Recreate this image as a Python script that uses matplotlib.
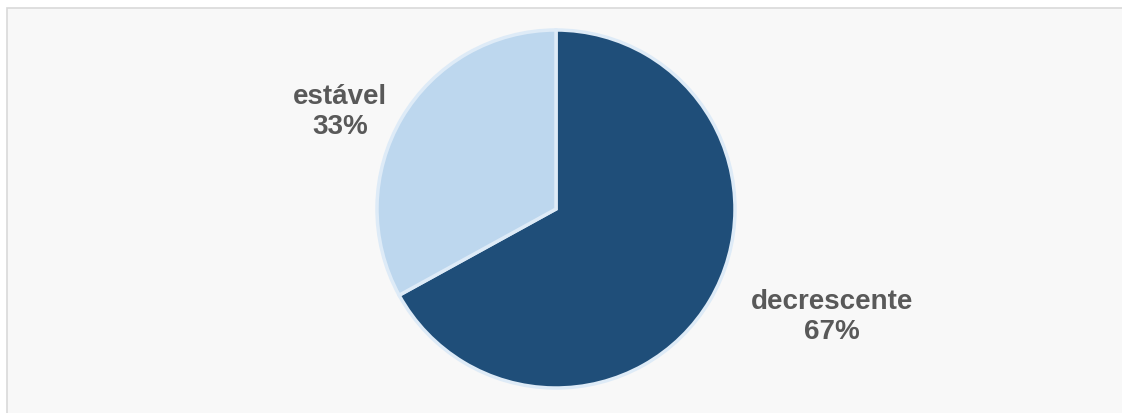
import matplotlib.pyplot as plt
from matplotlib.patches import Rectangle

labels = ['decrescente', 'estável']
values = [67, 33]
colors = ['#1f4e79', '#bdd7ee']

W, H = 1122, 414
fig = plt.figure(figsize=(W / 100, H / 100), dpi=100)
fig.patch.set_facecolor('white')
ax = fig.add_axes([0, 0, 1, 1])

# chart area background with thin border
ax.add_patch(Rectangle((7, -5), W, H - 9 + 5, facecolor='#f8f8f8',
                       edgecolor='#d9d9d9', linewidth=1.2))

cx, cy, r = 556, H - 210, 179
wedges, _ = ax.pie(values, colors=colors, startangle=90, counterclock=False,
                   center=(cx, cy), radius=r, frame=True,
                   wedgeprops=dict(edgecolor='#deebf7', linewidth=2.5))
ax.set_xlim(0, W)
ax.set_ylim(0, H)
ax.set_aspect('equal')
ax.axis('off')

lab_pos = [(832, H - 317), (340, H - 112)]
for (x, y), lab, v in zip(lab_pos, labels, values):
    ax.text(x, y, f'{lab}\n{v}%', ha='center', va='center', fontsize=20,
            fontweight='bold', color='#595959', family='Liberation Sans',
            linespacing=1.17)

fig.savefig('out.png', dpi=100)
